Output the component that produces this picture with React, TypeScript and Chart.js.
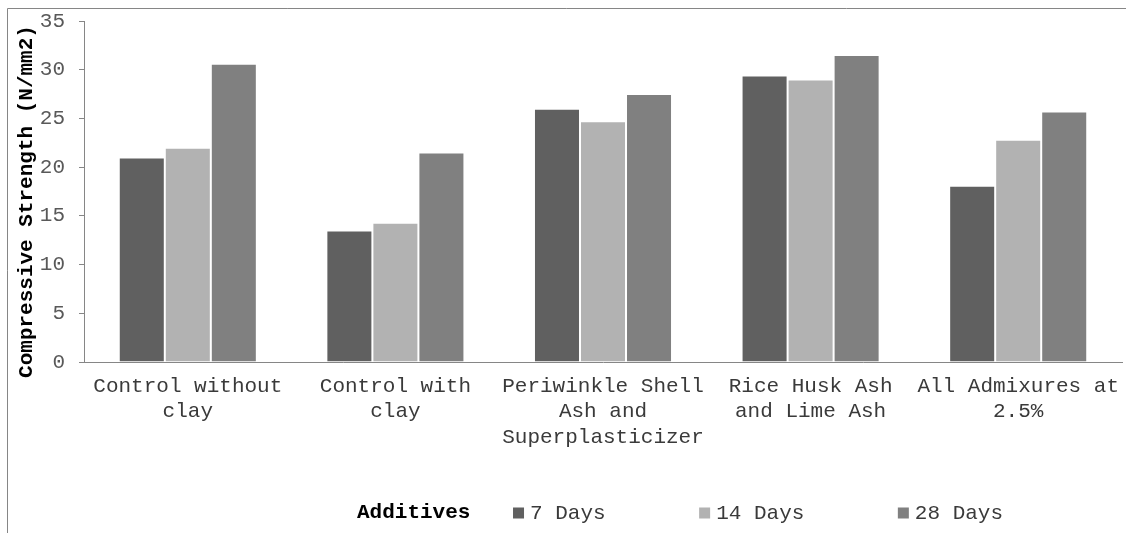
import React, { useEffect, useRef } from "react";
import { Chart, registerables } from "chart.js";

Chart.register(...registerables);

const categories: string[][] = [
  ["Control without", "clay"],
  ["Control with", "clay"],
  ["Periwinkle Shell", "Ash and", "Superplasticizer"],
  ["Rice Husk Ash", "and Lime Ash"],
  ["All Admixures at", "2.5%"],
];
const seriesLabels = ["7 Days", "14 Days", "28 Days"];
const days7 = [21.0, 13.5, 26.0, 29.4, 18.1];
const days14 = [22.0, 14.3, 24.7, 29.0, 22.8];
const days28 = [30.6, 21.5, 27.5, 31.5, 25.7];
const yMin = 0;
const yMax = 35;
const yStep = 5;
const yTitle = "Compressive Strength (N/mm2)";
const xTitle = "Additives";

const seriesColors = ["#606060", "#b2b2b2", "#808080"];
const FONT = '"Liberation Mono", "Courier New", monospace';

const decorPlugin = {
  id: "decor",
  beforeDraw(chart: any) {
    const ctx = chart.ctx as CanvasRenderingContext2D;
    ctx.save();
    ctx.fillStyle = "#ffffff";
    ctx.fillRect(0, 0, chart.width, chart.height);
    ctx.strokeStyle = "#868686";
    ctx.lineWidth = 1;
    ctx.beginPath();
    ctx.moveTo(7.5, chart.height);
    ctx.lineTo(7.5, 8.5);
    ctx.lineTo(chart.width, 8.5);
    ctx.stroke();
    ctx.restore();
  },
  afterDraw(chart: any) {
    const ctx = chart.ctx as CanvasRenderingContext2D;
    // y axis title
    ctx.save();
    ctx.translate(27, 201.5);
    ctx.rotate(-Math.PI / 2);
    ctx.font = `bold 21px ${FONT}`;
    ctx.fillStyle = "#000000";
    ctx.textAlign = "center";
    ctx.textBaseline = "middle";
    ctx.fillText(yTitle, 0, 0);
    ctx.restore();

    // legend row with x title
    ctx.save();
    const y = 513;
    let x = 357;
    ctx.textAlign = "left";
    ctx.textBaseline = "middle";
    ctx.font = `bold 21px ${FONT}`;
    ctx.fillStyle = "#000000";
    ctx.fillText(xTitle, x, y);
    x += ctx.measureText(xTitle).width + 42.6;
    ctx.font = `21px ${FONT}`;
    chart.data.datasets.forEach((ds: any) => {
      ctx.fillStyle = ds.backgroundColor;
      ctx.fillRect(x, y - 5.5, 11, 11);
      x += 17;
      ctx.fillStyle = "#3a3a3a";
      ctx.fillText(ds.label, x, y);
      x += ctx.measureText(ds.label).width + 93.5;
    });
    ctx.restore();
  },
};

export default function App() {
  const ref = useRef<HTMLCanvasElement | null>(null);

  useEffect(() => {
    if (!ref.current) return;
    const series = [days7, days14, days28];
    const chart = new Chart(ref.current, {
      type: "bar",
      data: {
        labels: categories,
        datasets: series.map((values, i) => ({
          label: seriesLabels[i],
          data: values,
          backgroundColor: seriesColors[i],
          borderColor: "rgba(255,255,255,0.35)",
          borderWidth: 1,
          barPercentage: 1,
          categoryPercentage: 0.665,
        })),
      },
      options: {
        responsive: false,
        animation: false,
        devicePixelRatio: 1,
        layout: { padding: { left: 8, top: 21, right: 4, bottom: 0 } },
        plugins: {
          legend: { display: false },
          tooltip: { enabled: false },
          title: { display: false },
        },
        scales: {
          x: {
            type: "category",
            grid: { display: false },
            border: { display: true, color: "#868686", width: 1 },
            ticks: {
              color: "#3a3a3a",
              font: { family: FONT, size: 21, lineHeight: 1.2 },
              padding: 4,
              maxRotation: 0,
              autoSkip: false,
            },
            afterFit: (scale: any) => {
              scale.height = 171;
              scale.paddingLeft = 0;
              scale.paddingRight = 0;
            },
          },
          y: {
            min: yMin,
            max: yMax,
            ticks: {
              stepSize: yStep,
              color: "#595959",
              font: { family: FONT, size: 21 },
              padding: 14,
            },
            grid: {
              display: true,
              drawOnChartArea: false,
              drawTicks: true,
              tickLength: 5,
              color: "#868686",
            },
            border: { display: true, color: "#868686", width: 1 },
            afterFit: (scale: any) => {
              scale.width = 76;
              scale.paddingTop = 0;
              scale.paddingBottom = 0;
            },
          },
        },
      },
      plugins: [decorPlugin],
    });
    return () => chart.destroy();
  }, []);

  return (
    <canvas
      ref={ref}
      width={1126}
      height={533}
      style={{ position: "absolute", left: 0, top: 0, display: "block" }}
    />
  );
}
